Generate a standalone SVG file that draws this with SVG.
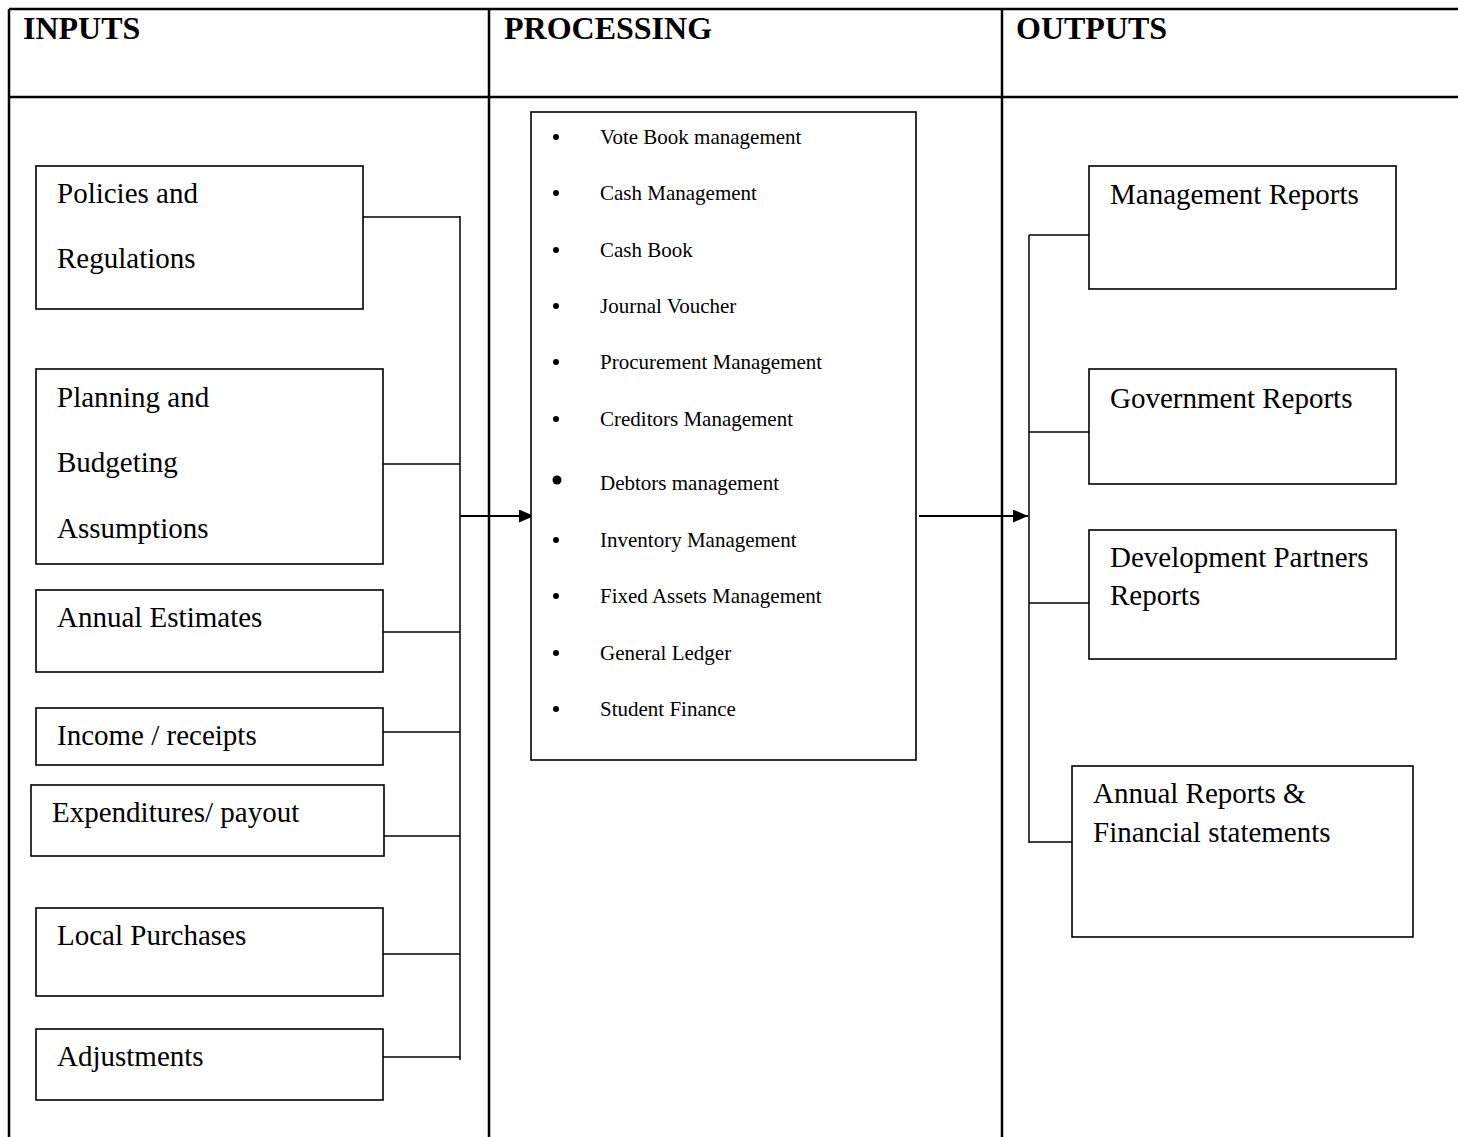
<svg xmlns="http://www.w3.org/2000/svg" width="1458" height="1137" viewBox="0 0 1458 1137">
<defs>
<style>
.tbl{stroke:#000;stroke-width:2.5;fill:none}
.box{stroke:#000;stroke-width:1.6;fill:#fff}
.con{stroke:#000;stroke-width:1.5;fill:none}
.arr{stroke:#000;stroke-width:2;fill:none}
.hd{font-family:"Liberation Serif","Times New Roman",serif;font-weight:bold;font-size:32px;fill:#000}
.t{font-family:"Liberation Serif","Times New Roman",serif;font-size:29px;fill:#000}
.li{font-family:"Liberation Serif","Times New Roman",serif;font-size:21px;fill:#000}
</style>
<marker id="ah" viewBox="0 0 10 10" refX="10" refY="5" markerWidth="15" markerHeight="13" markerUnits="userSpaceOnUse" orient="auto" preserveAspectRatio="none">
<path d="M0,0 L10,5 L0,10 Z" fill="#000"/>
</marker>
</defs>
<rect width="1458" height="1137" fill="#fff"/>
<g id="table">
<line class="tbl" x1="9" y1="9" x2="1458" y2="9"/>
<line class="tbl" x1="9" y1="97" x2="1458" y2="97"/>
<line class="tbl" x1="9" y1="9" x2="9" y2="1137"/>
<line class="tbl" x1="489" y1="9" x2="489" y2="1137"/>
<line class="tbl" x1="1002" y1="9" x2="1002" y2="1137"/>
<text class="hd" x="23" y="39">INPUTS</text>
<text class="hd" x="504" y="39">PROCESSING</text>
<text class="hd" x="1016" y="39">OUTPUTS</text>
</g>
<g id="connectors">
<line class="con" x1="363" y1="217" x2="460" y2="217"/>
<line class="con" x1="383" y1="464" x2="460" y2="464"/>
<line class="con" x1="383" y1="632" x2="460" y2="632"/>
<line class="con" x1="383" y1="732" x2="460" y2="732"/>
<line class="con" x1="384" y1="836" x2="460" y2="836"/>
<line class="con" x1="383" y1="954" x2="460" y2="954"/>
<line class="con" x1="383" y1="1057" x2="460" y2="1057"/>
<line class="con" x1="460" y1="216" x2="460" y2="1060"/>
<line class="arr" x1="460" y1="516" x2="534" y2="516" marker-end="url(#ah)"/>
<line class="arr" x1="919" y1="516" x2="1028" y2="516" marker-end="url(#ah)"/>
<line class="con" x1="1029" y1="235" x2="1029" y2="843"/>
<line class="con" x1="1029" y1="235" x2="1089" y2="235"/>
<line class="con" x1="1029" y1="432" x2="1089" y2="432"/>
<line class="con" x1="1029" y1="603" x2="1089" y2="603"/>
<line class="con" x1="1029" y1="842" x2="1072" y2="842"/>
</g>
<g id="policies">
<rect class="box" x="36" y="166" width="327" height="143"/>
<text class="t" x="57" y="203">Policies and</text>
<text class="t" x="57" y="268">Regulations</text>
</g>
<g id="planning">
<rect class="box" x="36" y="369" width="347" height="195"/>
<text class="t" x="57" y="407">Planning and</text>
<text class="t" x="57" y="472">Budgeting</text>
<text class="t" x="57" y="538">Assumptions</text>
</g>
<g id="annual-estimates">
<rect class="box" x="36" y="590" width="347" height="82"/>
<text class="t" x="57" y="627">Annual Estimates</text>
</g>
<g id="income">
<rect class="box" x="36" y="708" width="347" height="57"/>
<text class="t" x="57" y="745">Income / receipts</text>
</g>
<g id="expenditures">
<rect class="box" x="31" y="785" width="353" height="71"/>
<text class="t" x="52" y="822">Expenditures/ payout</text>
</g>
<g id="local-purchases">
<rect class="box" x="36" y="908" width="347" height="88"/>
<text class="t" x="57" y="945">Local Purchases</text>
</g>
<g id="adjustments">
<rect class="box" x="36" y="1029" width="347" height="71"/>
<text class="t" x="57" y="1066">Adjustments</text>
</g>
<g id="processing">
<rect class="box" x="531" y="112" width="385" height="648"/>
<g fill="#000">
<circle cx="556" cy="137" r="3"/>
<circle cx="556" cy="193" r="3"/>
<circle cx="556" cy="250" r="3"/>
<circle cx="556" cy="306" r="3"/>
<circle cx="556" cy="362" r="3"/>
<circle cx="556" cy="419" r="3"/>
<circle cx="557" cy="480" r="4.5"/>
<circle cx="556" cy="540" r="3"/>
<circle cx="556" cy="596" r="3"/>
<circle cx="556" cy="653" r="3"/>
<circle cx="556" cy="709" r="3"/>
</g>
<text class="li" x="600" y="144">Vote Book management</text>
<text class="li" x="600" y="200">Cash Management</text>
<text class="li" x="600" y="257">Cash Book</text>
<text class="li" x="600" y="313">Journal Voucher</text>
<text class="li" x="600" y="369">Procurement Management</text>
<text class="li" x="600" y="426">Creditors Management</text>
<text class="li" x="600" y="490">Debtors management</text>
<text class="li" x="600" y="547">Inventory Management</text>
<text class="li" x="600" y="603">Fixed Assets Management</text>
<text class="li" x="600" y="660">General Ledger</text>
<text class="li" x="600" y="716">Student Finance</text>
</g>
<g id="management-reports">
<rect class="box" x="1089" y="166" width="307" height="123"/>
<text class="t" x="1110" y="204">Management Reports</text>
</g>
<g id="government-reports">
<rect class="box" x="1089" y="369" width="307" height="115"/>
<text class="t" x="1110" y="408">Government Reports</text>
</g>
<g id="development-partners-reports">
<rect class="box" x="1089" y="530" width="307" height="129"/>
<text class="t" x="1110" y="567">Development Partners</text>
<text class="t" x="1110" y="605">Reports</text>
</g>
<g id="annual-reports">
<rect class="box" x="1072" y="766" width="341" height="171"/>
<text class="t" x="1093" y="803">Annual Reports &amp;</text>
<text class="t" x="1093" y="842">Financial statements</text>
</g>
</svg>
